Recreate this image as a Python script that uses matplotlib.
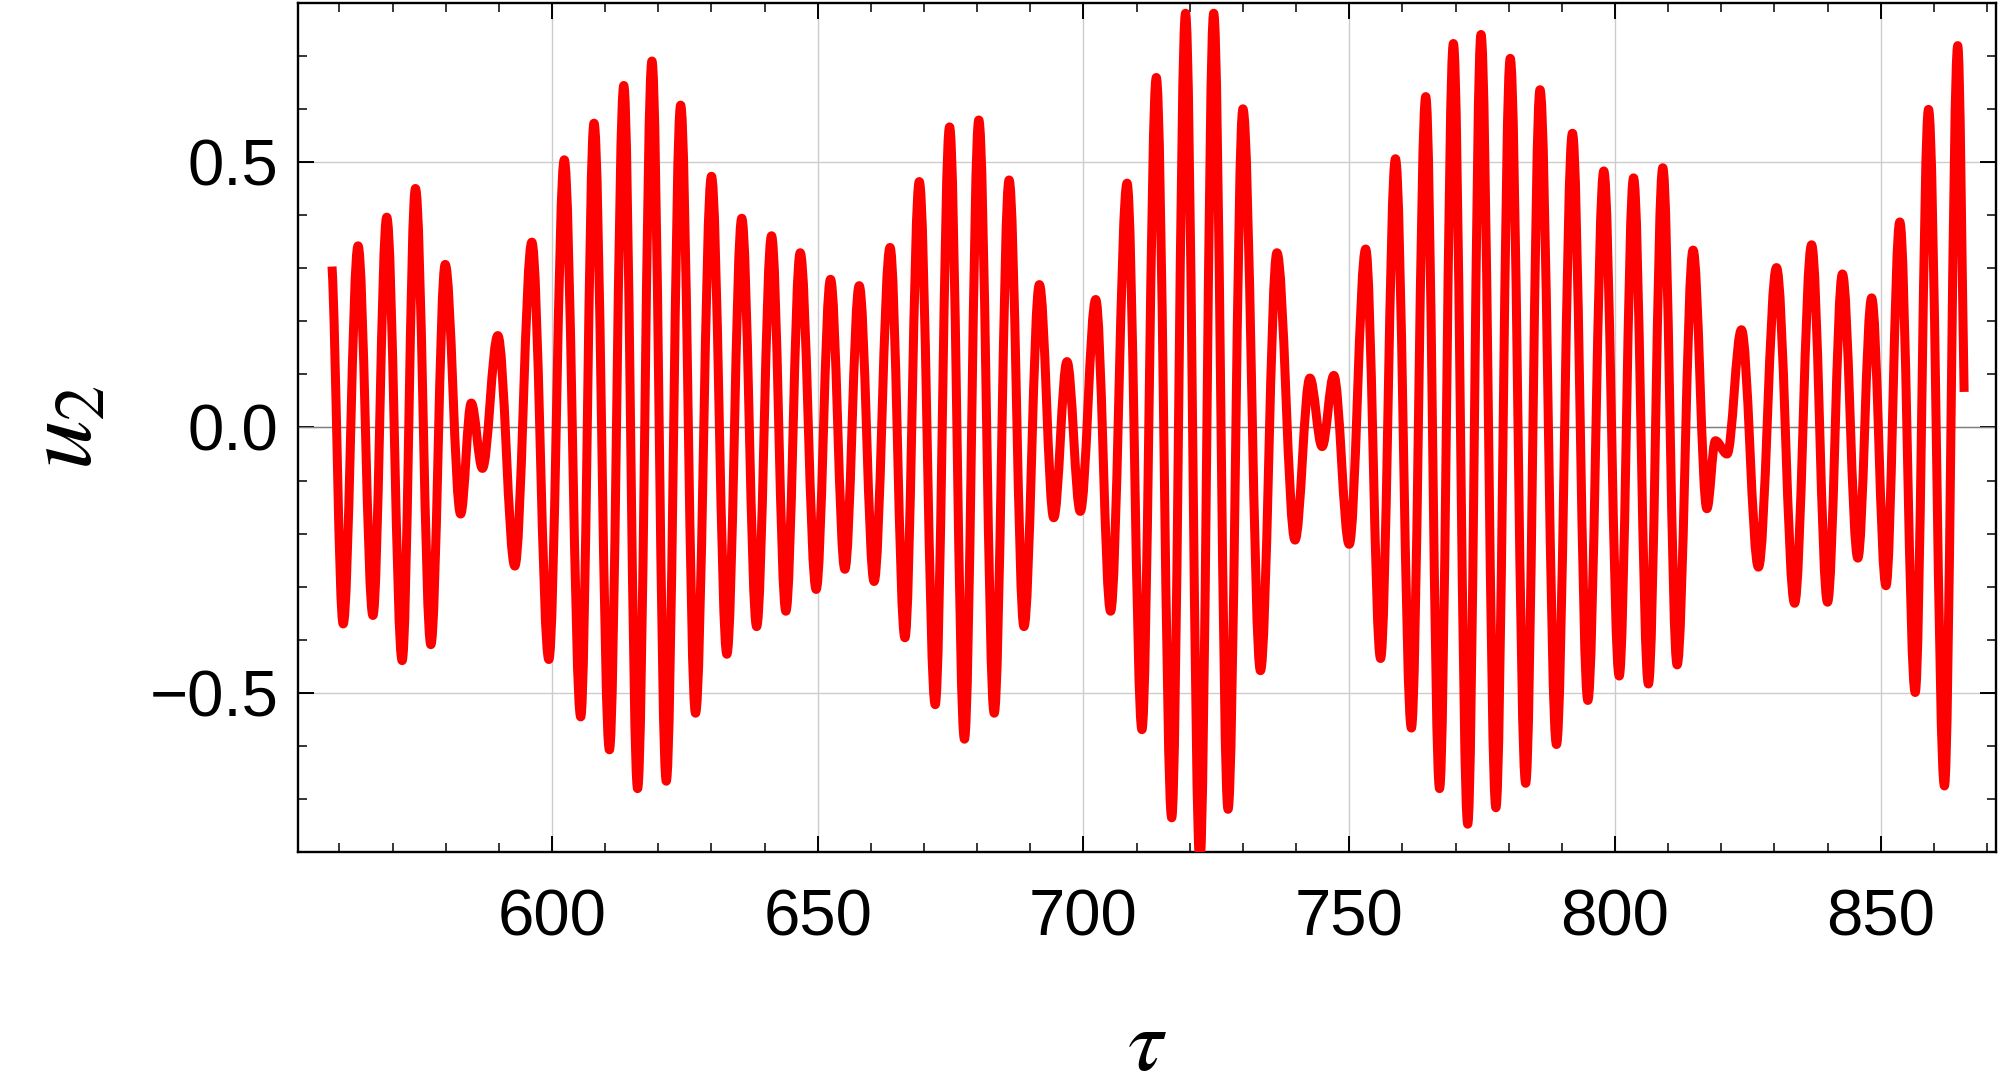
import matplotlib
matplotlib.use("Agg")
import matplotlib.pyplot as plt
from matplotlib.path import Path
from matplotlib.patches import PathPatch
from matplotlib.ticker import MultipleLocator

# turning points of u2(tau) (first and last are the ends)
tau = [558.6, 560.7, 563.5, 566.3, 568.9, 571.8, 574.3, 577.2, 579.9, 582.8, 584.8, 586.9, 589.8, 593.0, 596.2, 599.4, 602.3, 605.4,
       607.9, 610.8, 613.5, 616.1, 618.8, 621.5, 624.2, 627.0, 630.0, 632.9, 635.7, 638.5, 641.3, 644.0, 646.7, 649.7, 652.4, 655.1, 657.8,
       660.6, 663.6, 666.4, 669.1, 672.1, 674.8, 677.6, 680.3, 683.2, 686.0, 688.8, 691.7, 694.4, 696.9, 699.4, 702.3, 705.1, 708.2, 711.0,
       713.7, 716.6, 719.2, 721.9, 724.5, 727.2, 730.0, 733.3, 736.4, 739.8, 742.6, 744.9, 747.1, 750.0, 753.1, 755.9, 758.7, 761.7, 764.4,
       767.0, 769.6, 772.3, 774.8, 777.6, 780.3, 783.2, 785.9, 789.0, 792.0, 794.9, 797.9, 800.8, 803.5, 806.3, 809.0, 811.7, 814.7, 817.3,
       818.9, 821.1, 823.8, 827.0, 830.4, 833.8, 837.0, 840.0, 842.8, 845.7, 848.3, 851.0, 853.6, 856.5, 859.0, 862.0, 864.5, 865.7]
u2 = [0.303, -0.370, 0.342, -0.354, 0.396, -0.439, 0.450, -0.409, 0.307, -0.163, 0.046, -0.077, 0.173, -0.261, 0.349, -0.437, 0.504, -0.545,
      0.573, -0.607, 0.644, -0.680, 0.690, -0.666, 0.607, -0.538, 0.473, -0.427, 0.394, -0.375, 0.361, -0.346, 0.329, -0.305, 0.279, -0.267, 0.267,
      -0.290, 0.339, -0.396, 0.463, -0.522, 0.566, -0.587, 0.579, -0.538, 0.466, -0.375, 0.269, -0.170, 0.124, -0.158, 0.241, -0.346, 0.460, -0.569,
      0.659, -0.735, 0.780, -0.820, 0.780, -0.719, 0.600, -0.458, 0.329, -0.212, 0.093, -0.036, 0.098, -0.220, 0.336, -0.435, 0.506, -0.566, 0.623,
      -0.680, 0.723, -0.747, 0.740, -0.716, 0.695, -0.670, 0.636, -0.597, 0.554, -0.514, 0.483, -0.468, 0.470, -0.483, 0.489, -0.447, 0.334, -0.153,
      -0.025, -0.050, 0.184, -0.263, 0.301, -0.331, 0.344, -0.329, 0.289, -0.246, 0.244, -0.298, 0.387, -0.499, 0.599, -0.675, 0.719, 0.067]

xticks = [600, 650, 700, 750, 800, 850]
yticks = [-0.5, 0.0, 0.5]

plt.rcParams['mathtext.fontset'] = 'stix'
plt.rcParams['font.family'] = ['Liberation Sans', 'DejaVu Sans']

fig = plt.figure(figsize=(20, 10.88), dpi=100)
ax = fig.add_axes([0.149, 0.2166, 0.849, 0.781])

# smooth curve through the turning points: cubic segments, flat at each extremum
k = 0.363
verts = [(tau[0], u2[0])]
codes = [Path.MOVETO]
n = len(tau)
for i in range(n - 1):
    x0, y0 = tau[i], u2[i]
    x1, y1 = tau[i + 1], u2[i + 1]
    dx = x1 - x0
    if i == 0:
        c1 = (x0 + dx / 3, y0 + (y1 - y0) / 6)
    else:
        c1 = (x0 + k * dx, y0)
    if i == n - 2:
        c2 = (x1 - dx / 3, y1 - (y1 - y0) / 3)
    else:
        c2 = (x1 - k * dx, y1)
    verts += [c1, c2, (x1, y1)]
    codes += [Path.CURVE4, Path.CURVE4, Path.CURVE4]

curve = PathPatch(Path(verts, codes), fill=False, edgecolor='#ff0000', lw=6.5,
                  capstyle='butt', joinstyle='round', zorder=3)
ax.add_patch(curve)

ax.set_xlim(552.2, 871.7)
ax.set_ylim(-0.8, 0.8)

ax.set_xticks(xticks)
ax.set_yticks(yticks)
ax.set_yticklabels(['\u22120.5', '0.0', '0.5'])
ax.xaxis.set_minor_locator(MultipleLocator(10))
ax.yaxis.set_minor_locator(MultipleLocator(0.1))

ax.grid(True, which='major', color='#cccccc', lw=1.0, zorder=1)
ax.axhline(0, color='#808080', lw=1.0, zorder=2)

ax.tick_params(which='both', direction='in', top=True, right=True, color='black')
ax.tick_params(which='major', length=11.5, width=1.4, labelsize=47)
ax.tick_params(which='minor', length=6.5, width=1.1)
ax.tick_params(axis='x', which='major', pad=26)
ax.tick_params(axis='y', which='major', pad=14)

for s in ax.spines.values():
    s.set_linewidth(1.7)

ax.set_xlabel(r'$\tau$', fontsize=64, va='center')
ax.xaxis.set_label_coords(0.5, -0.229)
ax.set_ylabel(r'$u_2$', fontsize=72, va='center')
ax.yaxis.set_label_coords(-0.137, 0.5)

fig.savefig('out.png', dpi=100)
